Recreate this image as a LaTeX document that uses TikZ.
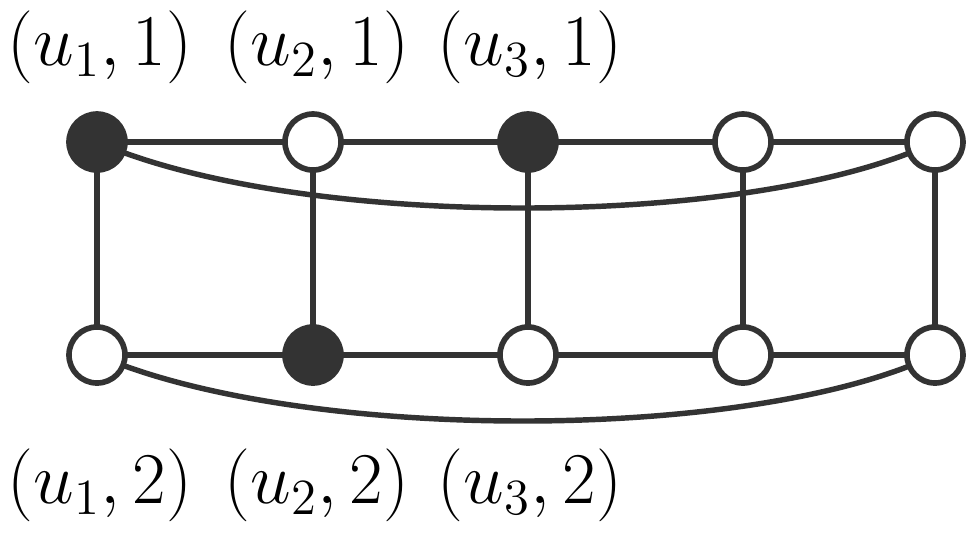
\documentclass[tikz,border=0pt]{standalone}
\usetikzlibrary{backgrounds}
\definecolor{ink}{HTML}{333333}
\begin{document}
\begin{tikzpicture}[x=0.01cm,y=-0.01cm,
  vtx/.style={circle,draw=ink,line width=1.6pt,minimum size=0.56cm,inner sep=0pt,fill=white},
  blk/.style={vtx,fill=ink},
  edge/.style={draw=ink,line width=1.55pt},
  lab/.style={font=\fontsize{20.5}{24}\selectfont,inner sep=0pt}]
\useasboundingbox (0,0) rectangle (975,541);
\node[blk] (a1) at (97,142) {};
\node[vtx] (a2) at (313,142) {};
\node[blk] (a3) at (528,142) {};
\node[vtx] (a4) at (743,142) {};
\node[vtx] (a5) at (935,142) {};
\node[vtx] (b1) at (97,355) {};
\node[blk] (b2) at (313,355) {};
\node[vtx] (b3) at (528,355) {};
\node[vtx] (b4) at (743,355) {};
\node[vtx] (b5) at (935,355) {};
\begin{scope}[on background layer]
\draw[edge] (a1.center)--(a2.center)--(a3.center)--(a4.center)--(a5.center);
\draw[edge] (b1.center)--(b2.center)--(b3.center)--(b4.center)--(b5.center);
\foreach \i in {1,...,5} \draw[edge] (a\i.center)--(b\i.center);
\draw[edge] (a1.center) .. controls (300,230) and (750,230) .. (a5.center);
\draw[edge] (b1.center) .. controls (300,443) and (750,443) .. (b5.center);
\end{scope}
\node[lab] (t1) at (100,47) {$(u_1,1)$};
\node[lab] (t2) at (317,47) {$(u_2,1)$};
\node[lab] (t3) at (530,47) {$(u_3,1)$};
\node[lab] (s1) at (100,485) {$(u_1,2)$};
\node[lab] (s2) at (317,485) {$(u_2,2)$};
\node[lab] (s3) at (530,485) {$(u_3,2)$};
\end{tikzpicture}
\end{document}
